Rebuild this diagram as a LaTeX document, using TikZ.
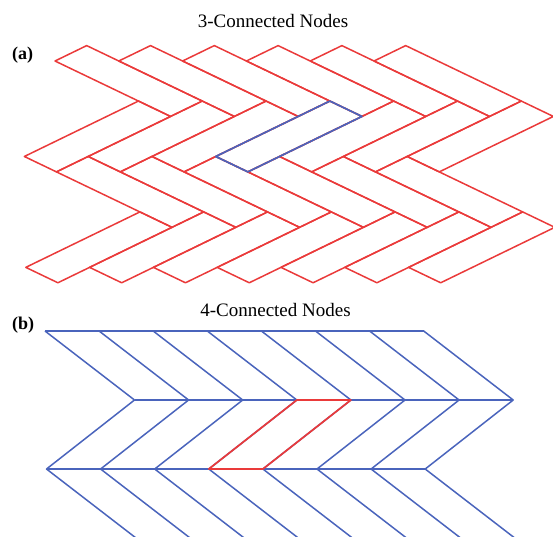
\documentclass[tikz,border=0pt]{standalone}
\usepackage{fontspec}
\setmainfont{Liberation Serif}
\definecolor{lred}{HTML}{EA3A3A}
\definecolor{lblue}{HTML}{4A64BC}
\begin{document}
\begin{tikzpicture}[x=1pt,y=-1pt,
  redline/.style={draw=lred,line width=1.5pt,line join=round},
  blueline/.style={draw=lblue,line width=1.5pt,line join=round},
  lbl/.style={font=\fontsize{19}{22}\selectfont,inner sep=0pt,anchor=base},
  panel/.style={font=\fontsize{18}{22}\selectfont\bfseries,inner sep=0pt,anchor=base west}]
\useasboundingbox (0,0) rectangle (553,536);
% titles and panel labels
\node[lbl] (ta) at (273,27) {3-Connected Nodes};
\node[panel] (la) at (12,59) {(a)};
\node[lbl] (tb) at (275.5,316.5) {4-Connected Nodes};
\node[panel] (lb) at (12,329) {(b)};
% (a) herringbone of parallelograms
\begin{scope}[shift={(55,61)},x={(31.7pt,15.4pt)},y={(32.1pt,-15.4pt)}]
\def\kk{3.6}
\foreach \n in {0,...,5}
  \draw[redline] (\n,\n) -- ++(1,0) -- ++(0,\kk) -- ++(-1,0) -- cycle;
\foreach \n in {0,...,6}
  \draw[redline] ({\n-\kk},{\n+\kk-1}) -- ++(\kk,0) -- ++(0,1) -- ++(-\kk,0) -- cycle;
\foreach \n in {0,...,5}
  \draw[redline] ({\n-\kk},{\n+\kk}) -- ++(1,0) -- ++(0,\kk) -- ++(-1,0) -- cycle;
\foreach \n in {0,...,6}
  \draw[redline] ({\n-2*\kk},{\n+2*\kk-1}) -- ++(\kk,0) -- ++(0,1) -- ++(-\kk,0) -- cycle;
\draw[blueline,line width=1.7pt] ({3-\kk},{3+\kk-1}) -- ++(\kk,0) -- ++(0,1) -- ++(-\kk,0) -- cycle;
\end{scope}
% (b) chevron lattice
\foreach \i in {0,...,7} {
  \coordinate (t\i) at ({45+54.1*\i},331);
  \coordinate (m\i) at ({134.5+54.1*\i},400);
  \coordinate (b\i) at ({46.5+54.1*\i},469);
  \coordinate (e\i) at ({46.5+54.1*\i+89.5},538);
}
\draw[blueline] (t0) -- (t7);
\draw[blueline] (m0) -- (m7);
\draw[blueline] (b0) -- (b7);
\foreach \i in {0,...,7}
  \draw[blueline] (t\i) -- (m\i) -- (b\i) -- (e\i);
\draw[redline,line width=1.7pt] (b3) -- (b4) -- (m4) -- (m3) -- cycle;
\end{tikzpicture}
\end{document}
